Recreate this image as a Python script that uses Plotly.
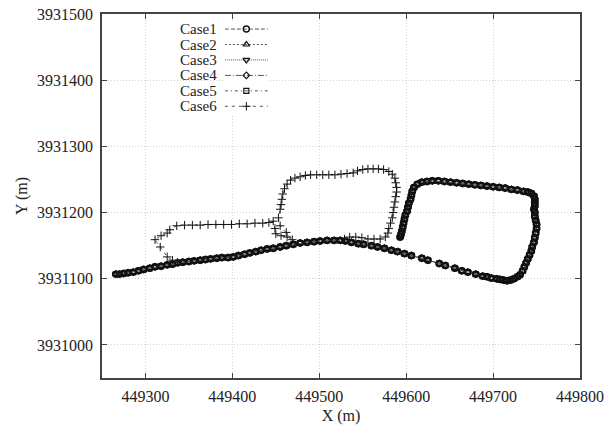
import plotly.graph_objects as go

# ---------------- data (UTM metres) ----------------
x_ticks = [449300, 449400, 449500, 449600, 449700, 449800]
y_ticks = [3931000, 3931100, 3931200, 3931300, 3931400, 3931500]
case_names = ["Case1", "Case2", "Case3", "Case4", "Case5", "Case6"]

# main road trajectory (Case1..Case5 overlap on it)
road_west = [(449266, 3931107), (449270, 3931107), (449275, 3931108), (449280, 3931109),
             (449286, 3931110), (449292, 3931112), (449298, 3931114), (449305, 3931116),
             (449311, 3931118), (449318, 3931119), (449325, 3931121), (449331, 3931122),
             (449337, 3931124), (449343, 3931125), (449350, 3931126), (449356, 3931127),
             (449363, 3931128), (449369, 3931129), (449375, 3931130), (449382, 3931131),
             (449388, 3931132), (449395, 3931132), (449401, 3931133), (449407, 3931135),
             (449414, 3931137), (449420, 3931139), (449427, 3931141), (449433, 3931143),
             (449440, 3931145), (449447, 3931146), (449455, 3931148), (449462, 3931150),
             (449470, 3931152), (449478, 3931154), (449486, 3931155), (449494, 3931156),
             (449501, 3931157), (449509, 3931158), (449517, 3931158), (449524, 3931158)]
road_east = [(449530, 3931157), (449537, 3931155), (449545, 3931153), (449551, 3931152),
             (449560, 3931150), (449567, 3931148), (449575, 3931146), (449583, 3931143),
             (449590, 3931141), (449598, 3931138), (449606, 3931135), (449618, 3931131),
             (449625, 3931128), (449638, 3931123), (449645, 3931120), (449656, 3931116),
             (449664, 3931112), (449671, 3931110), (449680, 3931107), (449688, 3931104),
             (449693, 3931103), (449698, 3931101), (449704, 3931100), (449708, 3931099),
             (449712, 3931098), (449716, 3931097), (449720, 3931098)]
loop_east_side = [(449724, 3931100), (449728, 3931103), (449731, 3931106), (449734, 3931112),
                  (449736, 3931118), (449738, 3931124), (449740, 3931130), (449742, 3931136),
                  (449744, 3931142), (449745, 3931148), (449747, 3931155), (449748, 3931162),
                  (449749, 3931169), (449750, 3931176), (449750, 3931182), (449749, 3931188),
                  (449748, 3931194), (449748, 3931200), (449747, 3931205), (449748, 3931210),
                  (449748, 3931215), (449748, 3931220), (449747, 3931225), (449744, 3931229),
                  (449740, 3931231)]
loop_north_side = [(449735, 3931232), (449728, 3931234), (449721, 3931235), (449714, 3931237),
                   (449707, 3931238), (449700, 3931239), (449693, 3931240), (449686, 3931241),
                   (449679, 3931242), (449672, 3931243), (449665, 3931244), (449658, 3931245),
                   (449651, 3931246), (449644, 3931247), (449637, 3931248), (449630, 3931248),
                   (449624, 3931247), (449618, 3931246), (449613, 3931243)]
loop_west_side = [(449609, 3931238), (449607, 3931232), (449606, 3931226), (449605, 3931220),
                  (449603, 3931214), (449602, 3931208), (449601, 3931202), (449599, 3931196),
                  (449598, 3931190), (449597, 3931184), (449596, 3931178), (449595, 3931172),
                  (449594, 3931167), (449593, 3931163)]

case6_track = [(449337, 3931125), (449331, 3931128), (449325, 3931133), (449317, 3931148),
               (449311, 3931159), (449318, 3931165), (449325, 3931169), (449328, 3931174),
               (449336, 3931180), (449345, 3931181), (449354, 3931181), (449363, 3931181),
               (449372, 3931182), (449381, 3931182), (449390, 3931182), (449399, 3931182),
               (449408, 3931183), (449417, 3931183), (449426, 3931184), (449435, 3931184),
               (449442, 3931185), (449447, 3931187), (449449, 3931176), (449450, 3931168),
               (449456, 3931165), (449463, 3931163), (449469, 3931159), (449462, 3931170),
               (449455, 3931180), (449453, 3931192), (449455, 3931205), (449456, 3931212),
               (449457, 3931220), (449458, 3931228), (449460, 3931236), (449463, 3931243),
               (449467, 3931249), (449472, 3931252), (449478, 3931254), (449484, 3931256),
               (449490, 3931257), (449497, 3931257), (449504, 3931257), (449511, 3931257),
               (449518, 3931257), (449525, 3931258), (449532, 3931259), (449539, 3931260),
               (449544, 3931263), (449550, 3931265), (449556, 3931266), (449562, 3931266),
               (449568, 3931266), (449574, 3931265), (449580, 3931262), (449584, 3931258),
               (449587, 3931252), (449588, 3931245), (449589, 3931238), (449589, 3931231),
               (449588, 3931224), (449587, 3931216), (449586, 3931208), (449585, 3931200),
               (449584, 3931192), (449582, 3931184), (449580, 3931176), (449579, 3931169),
               (449576, 3931163), (449570, 3931160), (449563, 3931160), (449556, 3931160),
               (449549, 3931162), (449542, 3931163), (449535, 3931163), (449529, 3931160)]

road = road_west + road_east + loop_east_side + loop_north_side + loop_west_side
road_x = [p[0] for p in road]
road_y = [p[1] for p in road]
c6_x = [p[0] for p in case6_track]
c6_y = [p[1] for p in case6_track]

FONT = "Liberation Serif"
TXT = "#222222"
fig = go.Figure()

styles = {
    "Case1": dict(symbol="circle-open", dash="4px,2px", size=6, lw=1.4),
    "Case2": dict(symbol="triangle-up-open", dash="2px,2px", size=6, lw=1.2),
    "Case3": dict(symbol="triangle-down-open", dash="1px,1px", size=6, lw=1.2),
    "Case4": dict(symbol="diamond-open", dash="6px,2px,1px,2px", size=5, lw=1.2),
    "Case5": dict(symbol="square-open", dash="3px,3px,1px,3px", size=5, lw=1.2),
    "Case6": dict(symbol="cross-thin-open", dash="3px,4px", size=6, lw=1.0),
}

# draw Case2..5 first (beneath), then Case1, then Case6
order = ["Case2", "Case3", "Case4", "Case5", "Case1", "Case6"]
for name in order:
    st = styles[name]
    xs, ys = (c6_x, c6_y) if name == "Case6" else (road_x, road_y)
    fig.add_trace(go.Scatter(
        x=xs, y=ys, name=name, mode="lines+markers", showlegend=False,
        line=dict(color="#555555", width=1, dash=st["dash"]),
        marker=dict(symbol=st["symbol"], size=st["size"], color="#111111",
                    line=dict(width=st["lw"], color="#111111")),
    ))

# gnuplot-style key: text on the left, sample on the right (drawn on a hidden key axis)
for i, name in enumerate(case_names):
    st = styles[name]
    fig.add_trace(go.Scatter(
        x=[0, 1], y=[i, i], mode="lines", xaxis="x2", yaxis="y2",
        showlegend=False, hoverinfo="skip",
        line=dict(color="#555555", width=1, dash=st["dash"]),
    ))
    fig.add_trace(go.Scatter(
        x=[0.5], y=[i], mode="markers", xaxis="x2", yaxis="y2",
        showlegend=False, hoverinfo="skip",
        marker=dict(symbol=st["symbol"], size=st["size"], color="#111111",
                    line=dict(width=st["lw"], color="#111111")),
    ))
    fig.add_annotation(text=name, xref="paper", yref="y2", x=0.245, y=i,
                       xanchor="right", yanchor="middle", showarrow=False,
                       font=dict(family=FONT, size=15, color=TXT))

axis_common = dict(
    showline=True, linecolor="#444444", linewidth=1.5, mirror="ticks",
    ticks="inside", ticklen=5, tickcolor="#444444", tickwidth=1,
    showgrid=True, gridcolor="#d2d2d2", griddash="1px,2px", gridwidth=1,
    zeroline=False, automargin=False,
    tickfont=dict(family=FONT, size=16, color=TXT),
)
fig.update_layout(
    xaxis=dict(range=[449250, 449800], tickvals=x_ticks,
               ticktext=[str(v) for v in x_ticks], ticklabelstandoff=3,
               title=dict(text="X (m)", font=dict(family=FONT, size=16, color=TXT), standoff=12),
               **axis_common),
    yaxis=dict(range=[3930950, 3931500], tickvals=y_ticks,
               ticktext=[str(v) for v in y_ticks], ticklabelstandoff=4,
               title=dict(text="Y (m)", font=dict(family=FONT, size=16, color=TXT), standoff=5),
               **axis_common),
    xaxis2=dict(domain=[0.257, 0.347], range=[0, 1], anchor="y2", visible=False,
                fixedrange=True),
    yaxis2=dict(domain=[0.7253, 0.9798], range=[5.5, -0.5], anchor="x2", visible=False,
                fixedrange=True),
    width=606, height=425,
    margin=dict(l=102, r=26, t=14, b=47),
    plot_bgcolor="white", paper_bgcolor="white",
    showlegend=False,
)

fig.write_html("out.html")
